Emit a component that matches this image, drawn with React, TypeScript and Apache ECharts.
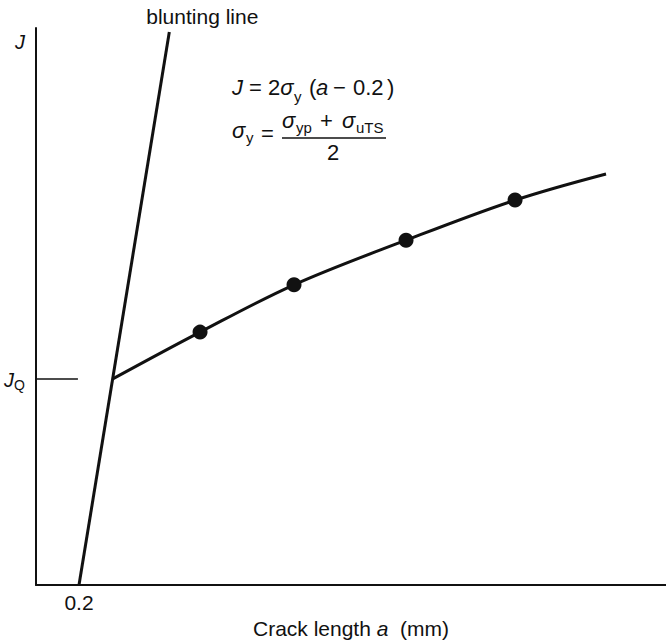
import React, { useEffect, useRef } from 'react';
import * as echarts from 'echarts';

// Axis ranges (crack length a in mm, J in arbitrary units)
const X_MIN = 0;
const X_MAX = 2.93;
const Y_MIN = 0;
const Y_MAX = 100;

// x tick labels shown
const xTickLabels = ['0.2'];

// Blunting line J = 2σy (a − 0.2)
const bluntingLine: [number, number][] = [
  [0.2, 0],
  [0.62, 99.3],
];

// J_Q value (intersection of R-curve with blunting line)
const JQ = 37.0;
const jqTick: [number, number][] = [
  [0, JQ],
  [0.195, JQ],
];

// Resistance curve (starts at blunting-line intersection)
const resistanceCurve: [number, number][] = [
  [0.357, 37.0],
  [0.763, 45.4],
  [1.2, 53.9],
  [1.721, 61.9],
  [2.228, 69.1],
  [2.651, 73.8],
];

// Measured test points
const testPoints: [number, number][] = [
  [0.763, 45.4],
  [1.2, 53.9],
  [1.721, 61.9],
  [2.228, 69.1],
];

const FONT = 'Liberation Sans';
const INK = '#111';

function txt(
  text: string,
  x: number,
  y: number,
  size: number,
  opts: { italic?: boolean; align?: string; rich?: any } = {}
) {
  const align = opts.align || 'left';
  return {
    type: 'text',
    x,
    y,
    silent: true,
    style: {
      text,
      fill: INK,
      fontSize: size,
      fontFamily: FONT,
      fontStyle: opts.italic ? 'italic' : 'normal',
      align,
      textAlign: align,
      verticalAlign: 'middle',
      textVerticalAlign: 'middle',
      rich: opts.rich,
    },
  };
}

export default function App() {
  const ref = useRef<HTMLDivElement>(null);

  useEffect(() => {
    const chart = echarts.init(ref.current!, null, { renderer: 'svg' });
    chart.setOption({
      animation: false,
      backgroundColor: '#fff',
      grid: {
        left: 36,
        right: 0,
        top: 28,
        bottom: 56,
        containLabel: false,
        outerBoundsMode: 'none',
      },
      xAxis: {
        type: 'value',
        min: X_MIN,
        max: X_MAX,
        interval: 0.2,
        axisLine: { show: true, lineStyle: { color: INK, width: 2 } },
        axisTick: { show: false },
        splitLine: { show: false },
        axisLabel: {
          show: true,
          margin: 7,
          color: INK,
          fontSize: 21,
          fontFamily: FONT,
          showMinLabel: true,
          showMaxLabel: false,
          formatter: (v: number) =>
            xTickLabels.find((t) => Math.abs(parseFloat(t) - v) < 1e-6) ?? '',
        },
        name: 'Crack length {i|a}  (mm)',
        nameLocation: 'middle',
        nameGap: 33,
        nameTextStyle: {
          color: INK,
          fontSize: 21,
          fontFamily: FONT,
          rich: { i: { fontStyle: 'italic', fontSize: 21, fontFamily: FONT, color: INK } },
        },
      },
      yAxis: {
        type: 'value',
        min: Y_MIN,
        max: Y_MAX,
        axisLine: { show: true, lineStyle: { color: INK, width: 2 } },
        axisTick: { show: false },
        axisLabel: { show: false },
        splitLine: { show: false },
      },
      series: [
        {
          name: 'blunting',
          type: 'line',
          data: bluntingLine,
          symbol: 'none',
          lineStyle: { color: INK, width: 3 },
          z: 3,
        },
        {
          name: 'curve',
          type: 'line',
          data: resistanceCurve,
          smooth: 0.35,
          symbol: 'none',
          lineStyle: { color: INK, width: 3 },
          z: 3,
        },
        {
          name: 'jq',
          type: 'line',
          data: jqTick,
          symbol: 'none',
          lineStyle: { color: INK, width: 1.5 },
        },
        {
          name: 'points',
          type: 'scatter',
          data: testPoints,
          symbol: 'circle',
          symbolSize: 15,
          itemStyle: { color: INK, opacity: 1 },
          z: 4,
        },
      ],
    });

    const px = (x: number, y: number) =>
      chart.convertToPixel({ gridIndex: 0 }, [x, y]) as number[];
    const top = px(bluntingLine[1][0], bluntingLine[1][1]);
    const axTop = px(0, Y_MAX);
    const jq = px(0, JQ);

    const italic = { i: { fontStyle: 'italic', fontSize: 22, fontFamily: FONT, color: INK } };

    chart.setOption({
      graphic: [
        txt('blunting line', top[0] + 33, top[1] - 15, 21, { align: 'center' }),
        txt('J', axTop[0] - 11, axTop[1] + 14, 20, { italic: true, align: 'right' }),
        txt('J', jq[0] - 32, jq[1] + 1, 20, { italic: true }),
        txt('Q', jq[0] - 22, jq[1] + 6, 14),
        // Formula line 1: J = 2σy (a − 0.2)
        txt('{i|J} = 2{i|σ}', 232, 87, 22, { rich: italic }),
        txt('y', 294, 96, 15),
        txt('(', 309, 87, 22),
        txt('a', 316, 87, 22, { italic: true }),
        txt('−', 333, 87, 22),
        txt('0.2', 353, 87, 22),
        txt(')', 387, 87, 22),
        // Formula line 2: σy = (σyp + σuTS) / 2
        txt('σ', 232, 130, 22, { italic: true }),
        txt('y', 246, 137, 15),
        txt('=', 261, 133, 22),
        txt('σ', 282, 120, 22, { italic: true }),
        txt('yp', 296, 127, 15),
        txt('+', 320, 120, 22),
        txt('σ', 342, 120, 22, { italic: true }),
        txt('uTS', 356, 127, 15),
        {
          type: 'line',
          silent: true,
          shape: { x1: 282, y1: 138, x2: 386, y2: 138 },
          style: { stroke: INK, lineWidth: 1.5 },
        },
        txt('2', 333, 152, 22, { align: 'center' }),
      ],
    });

    return () => chart.dispose();
  }, []);

  return (
    <div
      ref={ref}
      style={{ position: 'absolute', left: 0, top: 0, width: 666, height: 641, background: '#fff' }}
    />
  );
}
